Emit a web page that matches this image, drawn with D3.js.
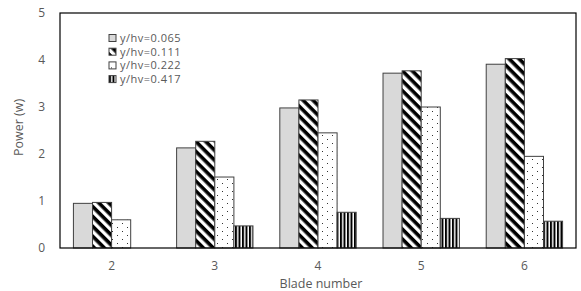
<!DOCTYPE html>
<html>
<head>
<meta charset="utf-8">
<script src="https://cdn.jsdelivr.net/npm/d3@7"></script>
<style>
  body { margin: 0; background: #fff; }
  text { font-family: "Open Sans", "DejaVu Sans", sans-serif; fill: #595959; }
</style>
</head>
<body>
<div id="chart"></div>
<script>
// blade numbers on x axis
const blades = ["2", "3", "4", "5", "6"];
const seriesNames = ["y/hv=0.065", "y/hv=0.111", "y/hv=0.222", "y/hv=0.417"];
// power (w) per series, one value per blade number
const s065 = [0.95, 2.13, 2.98, 3.72, 3.91];
const s111 = [0.97, 2.27, 3.15, 3.77, 4.03];
const s222 = [0.60, 1.51, 2.45, 3.00, 1.95];
const s417 = [0, 0.47, 0.76, 0.63, 0.57];
const yTicks = [0, 1, 2, 3, 4, 5];

const series = [s065, s111, s222, s417];

const margin = {top: 13, right: 5, bottom: 43, left: 60},
  width = 581 - margin.left - margin.right,
  height = 291 - margin.top - margin.bottom;

const svgRoot = d3.select("#chart").append("svg")
  .attr("width", 581).attr("height", 291);

// patterns
const defs = svgRoot.append("defs");
const hatch = defs.append("pattern").attr("id", "hatch")
  .attr("patternUnits", "userSpaceOnUse").attr("width", 7).attr("height", 7)
  .attr("patternTransform", "rotate(45)");
hatch.append("rect").attr("width", 7).attr("height", 7).attr("fill", "#fff");
hatch.append("rect").attr("width", 7).attr("height", 3.6).attr("fill", "#000");

const dots = defs.append("pattern").attr("id", "dots")
  .attr("patternUnits", "userSpaceOnUse").attr("width", 10).attr("height", 8);
dots.append("rect").attr("width", 10).attr("height", 8).attr("fill", "#fff");
dots.append("rect").attr("x", 2).attr("y", 2).attr("width", 1).attr("height", 1).attr("fill", "#333");
dots.append("rect").attr("x", 7).attr("y", 6).attr("width", 1).attr("height", 1).attr("fill", "#333");

const vert = defs.append("pattern").attr("id", "vert")
  .attr("patternUnits", "userSpaceOnUse").attr("width", 3.5).attr("height", 4);
vert.append("rect").attr("width", 3.5).attr("height", 4).attr("fill", "#fff");
vert.append("rect").attr("width", 2).attr("height", 4).attr("fill", "#000");

const fills = ["#d9d9d9", "url(#hatch)", "url(#dots)", "url(#vert)"];

const svg = svgRoot.append("g")
  .attr("transform", "translate(" + margin.left + "," + margin.top + ")");

const x = d3.scaleBand().domain(blades).range([0, width]).paddingInner(0.26).paddingOuter(0.13);
const xs = d3.scaleBand().domain(d3.range(series.length)).range([0, x.bandwidth()]);
const y = d3.scaleLinear().domain([0, 5]).range([height, 0]);

// bars
series.forEach(function(vals, i) {
  svg.selectAll(".bar" + i)
    .data(vals.map(function(v, j) { return {k: blades[j], v: v}; }).filter(function(d) { return d.v > 0; }))
    .enter().append("rect")
    .attr("x", function(d) { return x(d.k) + xs(i); })
    .attr("y", function(d) { return y(d.v); })
    .attr("width", xs.bandwidth())
    .attr("height", function(d) { return height - y(d.v); })
    .attr("fill", fills[i])
    .attr("stroke", "#404040")
    .attr("stroke-width", 1);
});

// frame
svg.append("rect").attr("width", width).attr("height", height)
  .attr("fill", "none").attr("stroke", "#000").attr("stroke-width", 1.2);

// axes
const yAxis = svg.append("g").call(d3.axisLeft(y).tickValues(yTicks).tickFormat(d3.format("d")).tickSize(0).tickPadding(15));
yAxis.select(".domain").remove();
yAxis.selectAll("text").style("font-size", "12px").attr("fill", "#595959");

const xAxis = svg.append("g").attr("transform", "translate(0," + height + ")")
  .call(d3.axisBottom(x).tickSize(0).tickPadding(13));
xAxis.select(".domain").remove();
xAxis.selectAll("text").style("font-size", "12px").attr("fill", "#595959");

svg.append("text").attr("x", width / 2 + 3).attr("y", height + 40)
  .attr("text-anchor", "middle").style("font-size", "12.5px").text("Blade number");
svg.append("text").attr("transform", "translate(-37," + (height / 2 - 3) + ") rotate(-90)")
  .attr("text-anchor", "middle").style("font-size", "12.5px").text("Power (w)");

// legend
const legend = svg.selectAll(".leg").data(seriesNames).enter().append("g")
  .attr("transform", function(d, i) { return "translate(49," + (25 + i * 13.7) + ")"; });
legend.append("rect").attr("width", 7).attr("height", 7).attr("y", -3.5)
  .attr("fill", function(d, i) { return fills[i]; })
  .attr("stroke", "#404040");
legend.append("text").attr("x", 11).attr("y", 0).attr("dy", "0.35em")
  .style("font-size", "11px").style("letter-spacing", "0.5px").text(function(d) { return d; });
</script>
</body>
</html>
